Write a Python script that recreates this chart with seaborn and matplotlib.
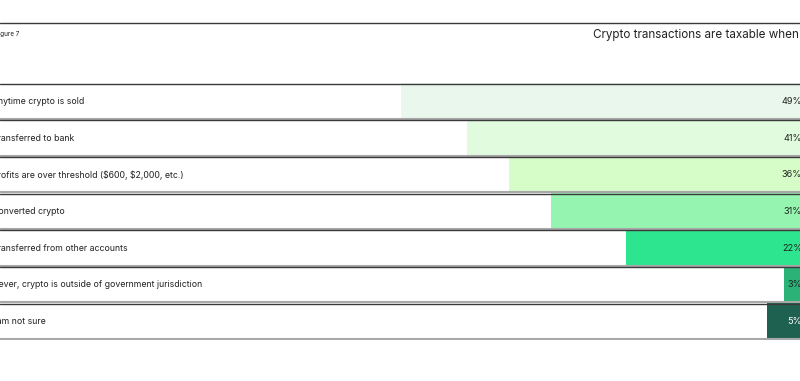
import matplotlib
matplotlib.use("Agg")
import matplotlib.pyplot as plt
from matplotlib.lines import Line2D
import matplotlib.transforms as mtransforms
import seaborn as sns
import pandas as pd

categories = [
    "Anytime crypto is sold",
    "Transferred to bank",
    "Profits are over threshold ($600, $2,000, etc.)",
    "Converted crypto",
    "Transferred from other accounts",
    "Never, crypto is outside of government jurisdiction",
    "I am not sure",
]
values = [49, 41, 36, 31, 22, 3, 5]
value_labels = ["49%", "41%", "36%", "31%", "22%", "3%", "5%"]
colors = ["#eaf7ec", "#e1fbde", "#d6fdc8", "#95f5b0", "#2ee58f", "#2bb377", "#1f6150"]
label_colors = ["#222222"] * 6 + ["#ffffff"]
title = "Crypto transactions are taxable when"
figure_label = "Figure 7"

df = pd.DataFrame({"category": categories, "value": values})

sns.set_theme(style="white")
plt.rcParams["font.family"] = ["Inter", "DejaVu Sans"]
plt.rcParams["text.parse_math"] = False

W, H = 800, 381
fig = plt.figure(figsize=(8, 3.81), dpi=100)
top_px, bot_px = 83, 340
ax = fig.add_axes([0, 1 - bot_px / H, 1, (bot_px - top_px) / H])

sns.barplot(data=df, y="category", x="value", hue="category",
            palette=colors, orient="h", width=1.0, legend=False,
            saturation=1, linewidth=0, ax=ax)

ax.set_xlim(97.1, 1.1)
ax.set_ylim(len(categories) - 0.5, -0.5)
for s in ax.spines.values():
    s.set_visible(False)
ax.set_xticks([])
ax.set_yticks([])
ax.set_xlabel("")
ax.set_ylabel("")

# row separators
row_h = (bot_px - top_px) / len(categories)
px = 1.0 / row_h
for i in range(len(categories)):
    ax.axhline(i - 0.5 + 0.5 * px, color="#3a3a3a", lw=1.0, zorder=5)
    ax.axhline(i + 0.5 - 0.8 * px, color="#a8a8a8", lw=1.5, zorder=5)

# category labels (left, partly cut by figure edge)
trans = mtransforms.blended_transform_factory(ax.transAxes, ax.transData)
for i, c in enumerate(categories):
    ax.text(-7.5 / W, i, c, transform=trans, ha="left", va="center",
            fontsize=6.3, color="#222222")

# value labels at the right
for i, (v, lab, col) in enumerate(zip(values, value_labels, label_colors)):
    ax.text(0.85, i, lab, ha="right", va="center", fontsize=6.6,
            color=col, clip_on=False, zorder=6)

# top rule, title and figure label
fig.add_artist(Line2D([0, 1], [1 - 22.5 / H, 1 - 22.5 / H], color="#3a3a3a", lw=1.0,
                      transform=fig.transFigure))
fig.text(-5 / W, 1 - 34 / H, figure_label, ha="left", va="center",
         fontsize=4.6, color="#222222")
fig.text(799 / W, 1 - 35 / H, title, ha="right", va="center",
         fontsize=8.4, color="#222222")

fig.savefig("out.png", dpi=100)
